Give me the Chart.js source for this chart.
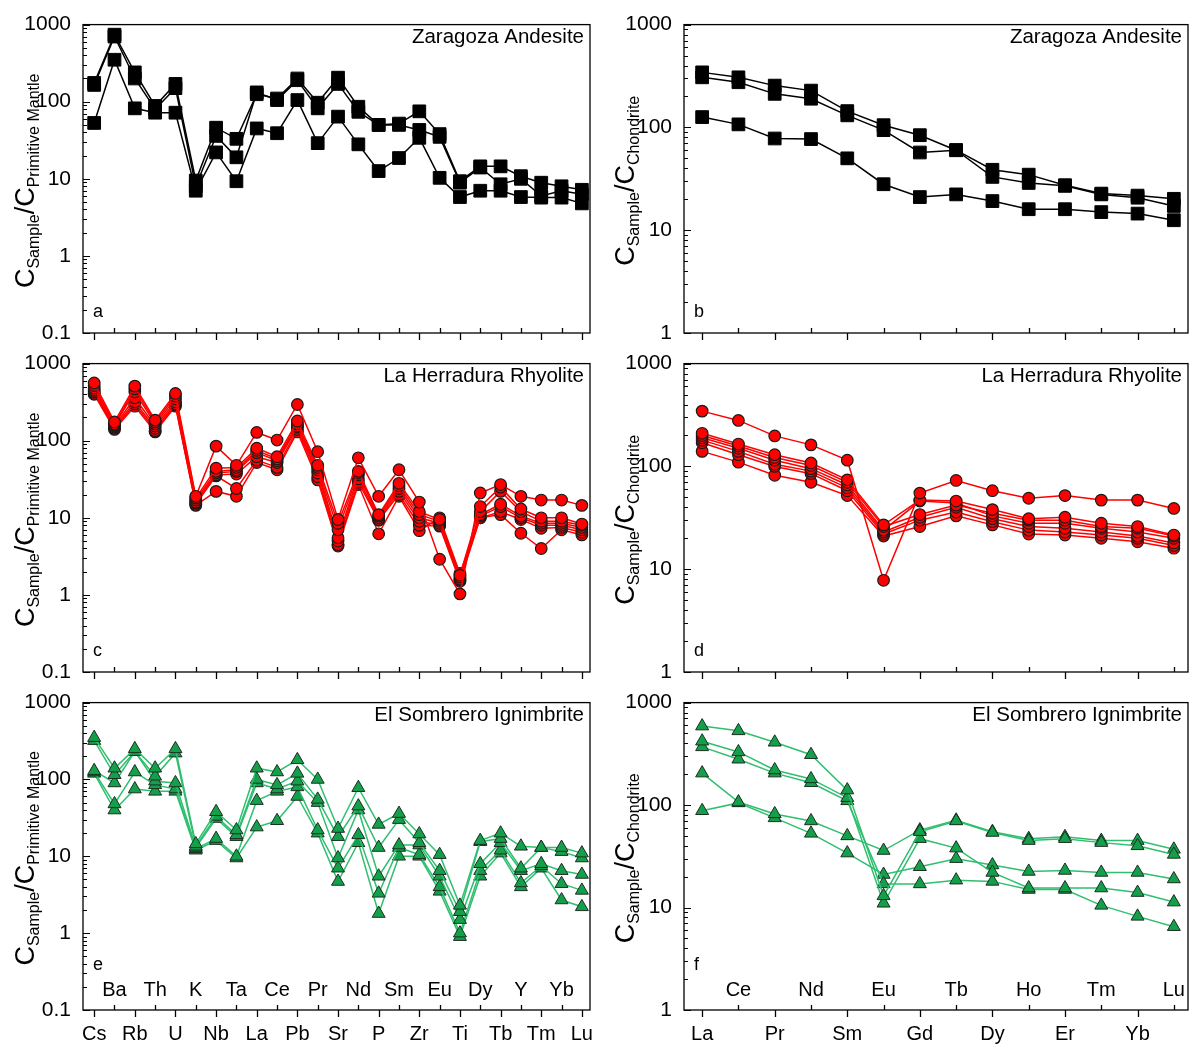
<!DOCTYPE html>
<html>
<head>
<meta charset="utf-8">
<script src="https://cdn.jsdelivr.net/npm/chart.js@4.4.0/dist/chart.umd.min.js"></script>
<style>
  html, body { margin: 0; padding: 0; background: #fff; }
  #wrap { position: relative; width: 1191px; height: 1051px; overflow: hidden; }
  canvas { position: absolute; }
</style>
</head>
<body>
<div id="wrap">
  <canvas id="pa" width="600" height="374" style="left:0;top:0"></canvas>
  <canvas id="pb" width="591" height="374" style="left:600px;top:0"></canvas>
  <canvas id="pc" width="600" height="374" style="left:0;top:339px"></canvas>
  <canvas id="pd" width="591" height="374" style="left:600px;top:339px"></canvas>
  <canvas id="pe" width="600" height="373" style="left:0;top:678px"></canvas>
  <canvas id="pf" width="591" height="373" style="left:600px;top:678px"></canvas>
</div>
<script>
// element order on the x axes
const pmElements = ['Cs','Ba','Rb','Th','U','K','Nb','Ta','La','Ce','Pb','Pr','Sr','Nd','P','Sm','Zr','Eu','Ti','Dy','Tb','Y','Tm','Yb','Lu'];
const reeElements = ['La','Ce','Pr','Nd','Sm','Eu','Gd','Tb','Dy','Ho','Er','Tm','Yb','Lu'];

// y tick labels
const pmTicks = [0.1, 1, 10, 100, 1000];
const reeTicks = [1, 10, 100, 1000];

// Zaragoza Andesite
const zaragozaPM = [
  [175, 740, 240, 88, 170, 9.5, 46, 33, 125, 110, 200, 97, 205, 86, 50, 52, 75, 38, 9.3, 14.5, 14.5, 10.8, 8.9, 8, 7.2],
  [165, 700, 200, 80, 150, 8, 36, 19, 132, 105, 190, 82, 170, 74, 50, 50, 43, 35, 8.9, 14, 8.5, 10, 6, 7, 6.3],
  [53, 350, 82, 72, 72, 7, 22, 9.3, 45, 39, 105, 29, 64, 28, 12.6, 18.6, 34, 10.3, 5.8, 7, 7, 5.8, 5.7, 5.7, 4.8]
];
const zaragozaREE = [
  [343, 307, 255, 228, 144, 105, 84, 60, 38.7, 34.7, 27.4, 22.7, 21.7, 20.2],
  [307, 275, 212, 190, 131, 94, 57, 60, 33, 28.8, 27, 22.3, 20.7, 17.2],
  [126, 107, 78, 77, 50, 28, 21, 22.3, 19.2, 16, 16, 15, 14.5, 12.5]
];

// La Herradura Rhyolite
const herraduraPM = [
  [560, 175, 510, 185, 410, 19, 85, 48, 128, 102, 295, 72, 9.5, 60, 19, 42, 16, 2.9, 1.03, 21, 27, 19, 17, 17, 14.5],
  [520, 165, 470, 175, 380, 18, 44, 45, 80, 62, 180, 48, 8.5, 40, 11, 28, 12, 9.5, 1.8, 14, 25, 13, 10, 10, 8.3],
  [480, 160, 430, 165, 350, 17, 40, 42, 75, 58, 165, 45, 7, 38, 10.5, 26, 11, 9, 1.7, 12, 22, 12, 9, 9, 8],
  [450, 155, 360, 155, 320, 16, 38, 40, 70, 55, 155, 42, 5.5, 36, 10, 24, 10, 8.5, 1.6, 11, 15, 10.5, 8.5, 8.5, 7.5],
  [430, 150, 320, 145, 300, 15.5, 36, 37, 62, 52, 150, 38, 5, 32, 9.5, 22, 9, 8, 1.55, 10.5, 14, 10, 8, 8, 7],
  [410, 145, 300, 135, 290, 15, 35, 24, 56, 45, 140, 34, 4.5, 29, 9.3, 20, 8, 7.8, 1.5, 10, 12, 9.5, 7.3, 7.5, 6.5],
  [400, 140, 280, 130, 280, 14.5, 22, 19, 52, 42, 130, 31, 4.3, 27, 6.2, 19, 6.8, 10, 1.9, 10, 11, 6.3, 4, 7, 6]
];
const herraduraREE = [
  [345, 280, 198, 162, 115, 7.8, 55, 73, 58, 49, 52, 47, 47, 39],
  [210, 165, 130, 108, 74, 27, 47, 46, 38, 31, 32, 28, 26, 21.5],
  [200, 158, 122, 102, 70, 26, 34, 42, 35, 30, 30, 26, 25, 21],
  [190, 150, 115, 95, 66, 24, 46, 44, 33, 28, 28, 25, 23, 20],
  [180, 140, 105, 90, 62, 23, 32, 40, 31, 26, 25, 23, 21, 18],
  [170, 130, 100, 85, 58, 22, 30, 36, 29, 24, 23, 21.5, 20, 17],
  [140, 110, 82, 70, 52, 21, 26, 33, 27, 22, 21.5, 20, 18.5, 16]
];

// El Sombrero Ignimbrite
const sombreroPM = [
  [350, 140, 250, 140, 250, 14.5, 38, 22, 140, 125, 180, 100, 23, 78, 26, 36, 19.5, 10.5, 2.3, 16, 20, 13.5, 13, 13, 11],
  [320, 115, 230, 110, 220, 13.5, 33, 19, 100, 85, 120, 55, 18, 45, 13, 30, 15, 6.5, 1.9, 15.5, 17, 7, 13, 11.5, 9.5],
  [130, 90, 230, 95, 90, 13, 31, 18, 90, 75, 95, 50, 9.5, 40, 5.5, 14, 14, 5.5, 1.5, 8, 15, 6.5, 8, 6.5, 5.8],
  [125, 48, 125, 85, 75, 12.5, 17, 10, 53, 70, 80, 22, 7, 19, 3.3, 13, 10.5, 4, 1.0, 6.5, 12, 4.5, 7.5, 4.4, 3.6],
  [120, 40, 75, 70, 70, 12, 16, 9.5, 24, 29, 60, 20, 4.7, 15, 1.8, 10, 10, 3.5, 0.9, 5.5, 11, 4, 7, 2.7, 2.2]
];
const sombreroREE = [
  [590, 530, 410, 310, 140, 13, 55, 70, 54, 45, 47, 43, 40, 33],
  [420, 330, 220, 180, 118, 11, 47, 38, 22, 15.5, 15.5, 15.5, 14, 11.3],
  [370, 280, 205, 165, 110, 17, 17, 18.5, 18, 15, 15, 10.5, 8.2, 6.5],
  [205, 107, 82, 70, 50, 36, 57, 71, 55, 47, 49, 45, 45, 37],
  [88, 105, 75, 53, 34, 21, 25, 30, 26, 22.5, 23, 22, 22, 19]
];

const FONT = '"Liberation Sans", Arial, Helvetica, sans-serif';

const styles = {
  black: { borderColor: '#000', borderWidth: 1.5, pointStyle: 'rect', pointRadius: 9,
           pointBackgroundColor: '#000', pointBorderColor: '#000', pointBorderWidth: 1 },
  red:   { borderColor: '#ff0000', borderWidth: 1.5, pointStyle: 'circle', pointRadius: 5.8,
           pointBackgroundColor: '#ff0000', pointBorderColor: '#1a1a1a', pointBorderWidth: 1.2 },
  green: { borderColor: '#2fbf6f', borderWidth: 1.5, pointStyle: 'triangle', pointRadius: 7.5,
           pointBackgroundColor: '#14a04a', pointBorderColor: '#1c2e22', pointBorderWidth: 1 }
};

// decorations: box, ticks, category labels, titles
const panelDeco = {
  id: 'panelDeco',
  afterDraw(chart, args, o) {
    const ctx = chart.ctx;
    const ca = chart.chartArea;
    const xs = chart.scales.x, ys = chart.scales.y;
    ctx.save();
    ctx.strokeStyle = '#000';
    ctx.lineWidth = 1.3;
    ctx.strokeRect(ca.left, ca.top, ca.right - ca.left, ca.bottom - ca.top);

    // y ticks, inward
    ctx.lineWidth = 1;
    ctx.beginPath();
    for (let d = o.yMin; d < 1000; d *= 10) {
      for (let k = 1; k <= 9; k++) {
        const y = Math.round(ys.getPixelForValue(k * d)) + 0.5;
        const len = k === 1 ? 7 : 4;
        ctx.moveTo(ca.left, y); ctx.lineTo(ca.left + len, y);
      }
    }
    const yTop = Math.round(ys.getPixelForValue(1000)) + 0.5;
    ctx.moveTo(ca.left, yTop); ctx.lineTo(ca.left + 7, yTop);
    ctx.stroke();

    // x ticks: even below axis, odd above
    ctx.lineWidth = 1.3;
    ctx.beginPath();
    o.elements.forEach((el, i) => {
      const x = Math.round(xs.getPixelForValue(i)) + 0.5;
      ctx.moveTo(x, ca.bottom);
      ctx.lineTo(x, i % 2 === 0 ? ca.bottom + 7 : ca.bottom - 5);
    });
    ctx.stroke();

    ctx.fillStyle = '#000';
    if (o.showLabels) {
      ctx.font = '20px ' + FONT;
      ctx.textAlign = 'center';
      ctx.textBaseline = 'middle';
      o.elements.forEach((el, i) => {
        const x = xs.getPixelForValue(i);
        ctx.fillText(el, x, i % 2 === 0 ? ca.bottom + 24 : ca.bottom - 20);
      });
    }

    // title and panel letter
    ctx.font = '20.5px ' + FONT;
    ctx.textAlign = 'right';
    ctx.textBaseline = 'middle';
    ctx.fillText(o.title, ca.right - 6, ca.top + 13);
    ctx.font = '18px ' + FONT;
    ctx.textAlign = 'left';
    ctx.fillText(o.letter, ca.left + 10, o.showLabels ? ca.bottom - 45 : ca.bottom - 21);

    // rotated y title with subscripts
    const parts = [['C', 27, 0], ['Sample', 16, 5], ['/C', 27, 0], [o.norm, 16, 5]];
    let total = 0;
    parts.forEach(p => { ctx.font = p[1] + 'px ' + FONT; p.push(ctx.measureText(p[0]).width); total += p[3]; });
    ctx.translate(34, (ca.top + ca.bottom) / 2 + 2);
    ctx.rotate(-Math.PI / 2);
    ctx.textAlign = 'left';
    ctx.textBaseline = 'alphabetic';
    let cx = -total / 2;
    parts.forEach(p => {
      ctx.font = p[1] + 'px ' + FONT;
      ctx.fillText(p[0], cx, p[2]);
      cx += p[3];
    });
    ctx.restore();
  }
};

function makePanel(id, cfg) {
  const datasets = cfg.series.map(row => Object.assign({
    data: row.map((v, i) => ({ x: i, y: v })),
    showLine: true,
    fill: false,
    tension: 0
  }, styles[cfg.style]));

  return new Chart(document.getElementById(id), {
    type: 'scatter',
    data: { datasets },
    plugins: [panelDeco],
    options: {
      responsive: false,
      animation: false,
      layout: { autoPadding: false, padding: { top: cfg.padTop, right: cfg.padRight, left: 0, bottom: 0 } },
      plugins: {
        legend: { display: false },
        tooltip: { enabled: false },
        panelDeco: {
          elements: cfg.elements, title: cfg.title, letter: cfg.letter,
          norm: cfg.norm, showLabels: cfg.showLabels, yMin: cfg.yTicks[0]
        }
      },
      scales: {
        x: {
          type: 'linear', min: cfg.xMin, max: cfg.xMax,
          grid: { display: false }, border: { display: false },
          ticks: { display: false },
          afterFit: s => { s.height = cfg.xAxisH; }
        },
        y: {
          type: 'logarithmic', min: cfg.yTicks[0], max: 1000,
          grid: { display: false, drawTicks: false }, border: { display: false },
          afterBuildTicks: s => { s.ticks = cfg.yTicks.map(v => ({ value: v })); },
          ticks: {
            padding: 12, color: '#000',
            font: { family: FONT, size: 21 },
            callback: v => String(v)
          },
          afterFit: s => { s.width = cfg.yW; }
        }
      }
    }
  });
}

const leftBase = { elements: pmElements, xMin: -0.55, xMax: 24.4, yW: 83, padRight: 10,
                   yTicks: pmTicks, norm: 'Primitive Mantle' };
const rightBase = { elements: reeElements, xMin: -0.5, xMax: 13.39, yW: 84, padRight: 3,
                    yTicks: reeTicks, norm: 'Chondrite' };

makePanel('pa', Object.assign({}, leftBase, { series: zaragozaPM, style: 'black', title: 'Zaragoza Andesite', letter: 'a', padTop: 20, xAxisH: 41, showLabels: false }));
makePanel('pb', Object.assign({}, rightBase, { series: zaragozaREE, style: 'black', title: 'Zaragoza Andesite', letter: 'b', padTop: 20, xAxisH: 41, showLabels: false }));
makePanel('pc', Object.assign({}, leftBase, { series: herraduraPM, style: 'red', title: 'La Herradura Rhyolite', letter: 'c', padTop: 20, xAxisH: 41, showLabels: false }));
makePanel('pd', Object.assign({}, rightBase, { series: herraduraREE, style: 'red', title: 'La Herradura Rhyolite', letter: 'd', padTop: 20, xAxisH: 41, showLabels: false }));
makePanel('pe', Object.assign({}, leftBase, { series: sombreroPM, style: 'green', title: 'El Sombrero Ignimbrite', letter: 'e', padTop: 19, xAxisH: 41, showLabels: true }));
makePanel('pf', Object.assign({}, rightBase, { series: sombreroREE, style: 'green', title: 'El Sombrero Ignimbrite', letter: 'f', padTop: 19, xAxisH: 41, showLabels: true }));
</script>
</body>
</html>
